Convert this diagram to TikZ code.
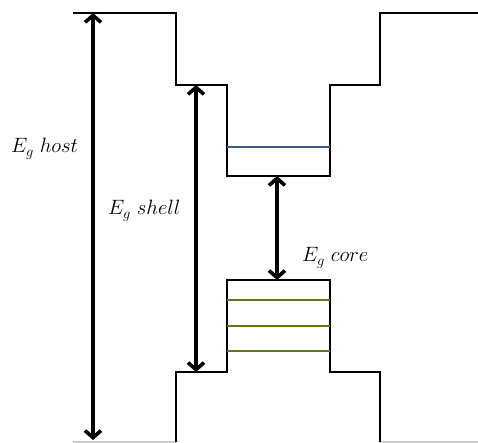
\documentclass[tikz,border=0pt]{standalone}
\usepackage{tikz}
\usetikzlibrary{arrows.meta}
\definecolor{levelblue}{RGB}{60,90,140}
\definecolor{levelgreen}{RGB}{95,120,30}

\begin{document}
\begin{tikzpicture}[x=1pt, y=1pt,
  band/.style={line width=2.2pt, line join=miter},
  edge/.style={line width=1.5pt, black!20},
  level/.style={line width=1.2pt},
  gap/.style={{Straight Barb[length=7pt,width=16pt]}-{Straight Barb[length=7pt,width=16pt]}, line width=3.6pt},
  lbl/.style={anchor=base west, inner sep=0pt, font=\fontsize{21.5}{25}\selectfont}]
\useasboundingbox (0,0) rectangle (478,443);
% conduction band edge
\draw[band] (73,430) -- (176,430) -- (176,358) -- (227,358) -- (227,267) -- (330,267) -- (330,358) -- (380,358) -- (380,430) -- (478,430);
% valence band edge
\draw[edge] (73,1) -- (176,1);
\draw[edge] (380,1) -- (478,1);
\draw[band] (176,1) -- (176,71) -- (227,71) -- (227,163) -- (330,163) -- (330,71) -- (380,71) -- (380,1);
% levels in the core
\draw[level, levelblue] (227,296) -- (330,296);
\foreach \y in {143,117,92}
  \draw[level, levelgreen] (227,\y) -- (330,\y);
% gap arrows
\coordinate (hosttop) at (93,430);
\coordinate (hostbot) at (93,3);
\coordinate (shelltop) at (196,358);
\coordinate (shellbot) at (196,71);
\coordinate (coretop) at (277,267);
\coordinate (corebot) at (277,163);
\draw[gap] (hostbot) -- (hosttop);
\draw[gap] (shellbot) -- (shelltop);
\draw[gap] (corebot) -- (coretop);
\node[lbl] (host) at (11,290) {$E_g\;host$};
\node[lbl] (shell) at (108,228) {$E_g\;shell$};
\node[lbl] (core) at (302,181) {$E_g\;core$};
\end{tikzpicture}
\end{document}
